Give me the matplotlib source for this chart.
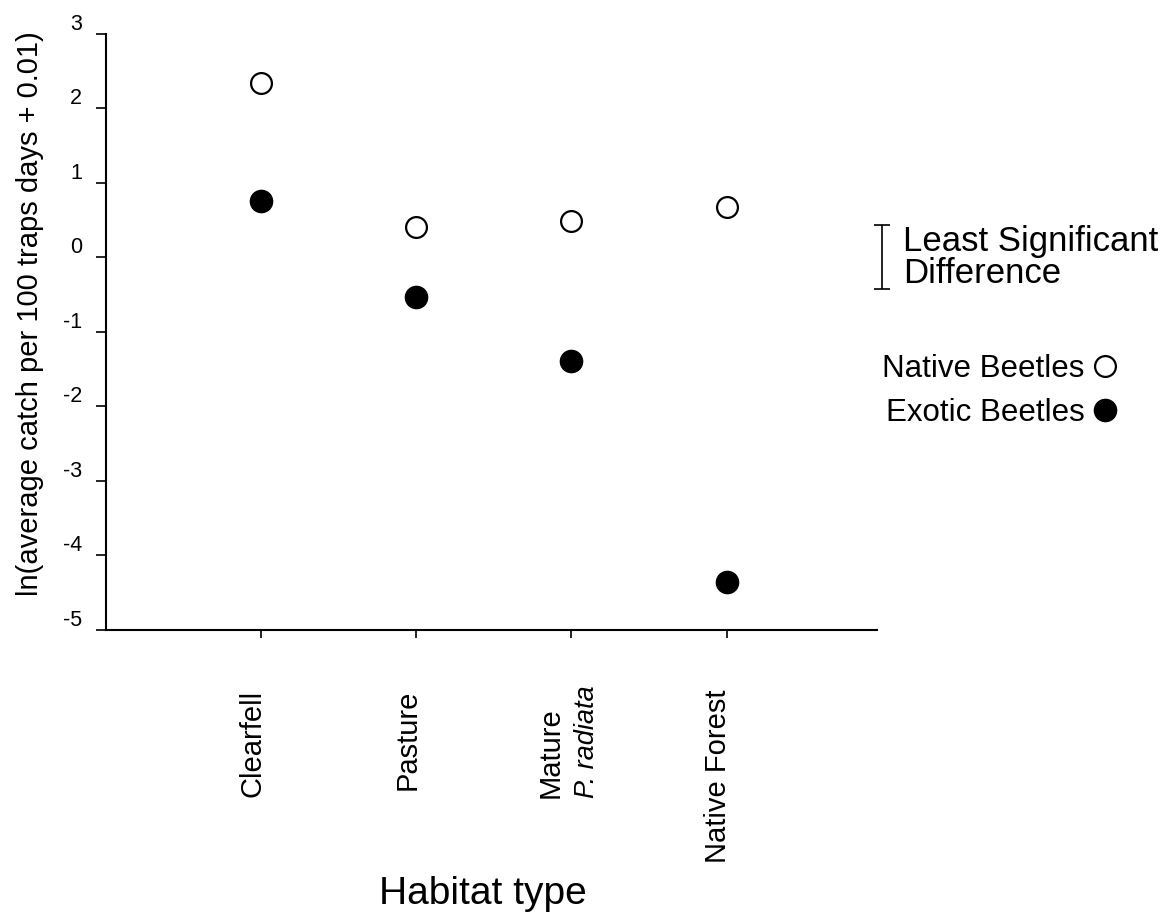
import matplotlib
matplotlib.use("Agg")
import matplotlib.pyplot as plt
from matplotlib.transforms import ScaledTranslation

plt.rcParams['font.family'] = ['Liberation Sans', 'DejaVu Sans']
plt.rcParams['axes.unicode_minus'] = False

# ln(mean catch per 100 trap days + 0.01) by habitat
habitats = ['Clearfell', 'Pasture', 'Mature', 'Native Forest']
habitat_species = ['', '', 'P. radiata', '']
native = [2.34, 0.40, 0.49, 0.68]
exotic = [0.75, -0.53, -1.39, -4.35]
lsd = 0.86
yticks = [-5, -4, -3, -2, -1, 0, 1, 2, 3]

x = list(range(1, len(habitats) + 1))

fig = plt.figure(figsize=(11.68, 9.16), dpi=100)
ax = fig.add_axes([0.0908, 0.3122, 0.6601, 0.6512])

ax.plot(x, native, 'o', ms=15, mfc='white', mec='black', mew=1.6,
        ls='none', label='Native Beetles', clip_on=False)
ax.plot(x, exotic, 'o', ms=16, mfc='black', mec='black',
        ls='none', label='Exotic Beetles', clip_on=False)

# least significant difference bar, just right of the axis end
eb = ax.errorbar([5.0], [0], yerr=lsd / 2, fmt='none', ecolor='black',
                 elinewidth=1.2, capsize=6, capthick=1.2)
for part in eb.get_children():
    part.set_clip_on(False)
ax.text(5.14, 0, 'Least Significant\nDifference', fontsize=25,
        ha='left', va='center', linespacing=0.95)

ax.legend(loc='upper left', bbox_to_anchor=(882 / 1168, 1 - 354 / 916),
          bbox_transform=fig.transFigure, frameon=False, markerfirst=False,
          fontsize=22.5, handlelength=0.8, handletextpad=0.26,
          labelspacing=0.45, borderpad=0, borderaxespad=0, numpoints=1)

ax.set_xlim(0, 4.97)
ax.set_ylim(-5, 3)
ax.set_yticks(yticks)
ax.set_xticks(x)
ax.set_xticklabels([])
ax.tick_params(axis='x', direction='out', length=6, width=1.2)
ax.tick_params(axis='y', direction='out', length=7, width=1.2,
               labelsize=15.5, pad=10.4)

# category names run upward, ending 60 px below the axis;
# two-line names start from the same baseline
for xi, name, species in zip(x, habitats, habitat_species):
    if species:
        ax.annotate(name, xy=(xi, 0), xycoords=('data', 'axes fraction'),
                    xytext=(-15, -121), textcoords='offset points',
                    rotation=90, ha='center', va='bottom', fontsize=21)
        ax.annotate(species, xy=(xi, 0), xycoords=('data', 'axes fraction'),
                    xytext=(11, -121), textcoords='offset points',
                    rotation=90, ha='center', va='bottom', fontsize=19.5,
                    style='italic')
    else:
        ax.annotate(name, xy=(xi, 0), xycoords=('data', 'axes fraction'),
                    xytext=(-6, -43), textcoords='offset points',
                    rotation=90, ha='center', va='top', fontsize=21)

for s in ['top', 'right']:
    ax.spines[s].set_visible(False)
for s in ['left', 'bottom']:
    ax.spines[s].set_linewidth(1.5)

# y labels sit a little above their ticks
up = ScaledTranslation(0, 0.12, fig.dpi_scale_trans)
for lab in ax.get_yticklabels():
    lab.set_transform(lab.get_transform() + up)

ax.set_ylabel('ln(average catch per 100 traps days + 0.01)', fontsize=21)
ax.yaxis.set_label_coords(-0.0804, 0.5306)
ax.set_xlabel('Habitat type', fontsize=28)
ax.xaxis.label.set_va('baseline')
ax.xaxis.set_label_coords(0.489, -0.4593)

fig.savefig('out.png', dpi=100)
